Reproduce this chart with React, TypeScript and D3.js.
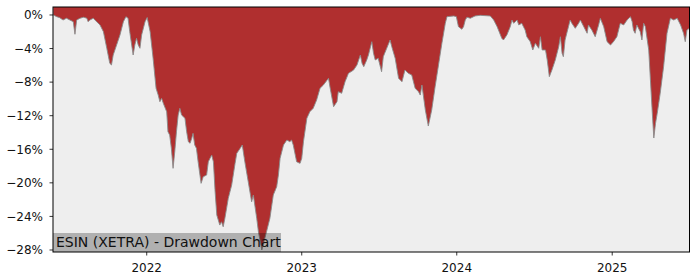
import React from "react";
import * as d3 from "d3";

const dates: string[] = [
  "2021-05-26","2021-06-03","2021-06-10","2021-06-18","2021-06-26","2021-07-04","2021-07-12","2021-07-16","2021-07-20","2021-07-28",
  "2021-08-05","2021-08-13","2021-08-16","2021-08-20","2021-08-28","2021-09-05","2021-09-13","2021-09-21","2021-09-29","2021-10-06",
  "2021-10-10","2021-10-14","2021-10-22","2021-10-30","2021-11-07","2021-11-13","2021-11-18","2021-11-22","2021-11-30","2021-12-04",
  "2021-12-08","2021-12-12","2021-12-16","2021-12-20","2021-12-28","2022-01-02","2022-01-09","2022-01-16","2022-01-23","2022-01-28",
  "2022-02-01","2022-02-05","2022-02-09","2022-02-17","2022-02-20","2022-02-24","2022-02-28","2022-03-04","2022-03-08","2022-03-12",
  "2022-03-16","2022-03-20","2022-03-24","2022-04-01","2022-04-05","2022-04-09","2022-04-13","2022-04-17","2022-04-20","2022-04-24",
  "2022-04-28","2022-05-02","2022-05-09","2022-05-14","2022-05-22","2022-05-26","2022-05-30","2022-06-03","2022-06-07","2022-06-11",
  "2022-06-15","2022-06-22","2022-06-26","2022-06-30","2022-07-04","2022-07-12","2022-07-20","2022-07-28","2022-08-01","2022-08-09",
  "2022-08-14","2022-08-20","2022-08-28","2022-09-05","2022-09-09","2022-09-17","2022-09-21","2022-09-29","2022-10-10","2022-10-18",
  "2022-10-26","2022-11-03","2022-11-07","2022-11-11","2022-11-19","2022-11-27","2022-12-04","2022-12-08","2022-12-12","2022-12-20",
  "2022-12-28","2023-01-01","2023-01-05","2023-01-13","2023-01-20","2023-01-28","2023-02-05","2023-02-13","2023-02-21","2023-03-05",
  "2023-03-09","2023-03-17","2023-03-25","2023-03-28","2023-04-05","2023-04-13","2023-04-21","2023-05-03","2023-05-11","2023-05-19",
  "2023-05-23","2023-05-27","2023-06-03","2023-06-07","2023-06-15","2023-06-19","2023-06-23","2023-06-30","2023-07-08","2023-07-12",
  "2023-07-20","2023-07-28","2023-08-01","2023-08-09","2023-08-17","2023-08-25","2023-09-01","2023-09-09","2023-09-17","2023-09-25",
  "2023-10-03","2023-10-07","2023-10-11","2023-10-19","2023-10-26","2023-11-03","2023-11-11","2023-11-19","2023-11-27","2023-12-05",
  "2023-12-09","2023-12-25","2023-12-31","2024-01-05","2024-01-13","2024-01-17","2024-01-21","2024-01-25","2024-02-02","2024-02-13",
  "2024-02-25","2024-03-20","2024-03-28","2024-04-05","2024-04-16","2024-04-20","2024-04-28","2024-05-06","2024-05-10","2024-05-14",
  "2024-05-22","2024-05-26","2024-06-02","2024-06-10","2024-06-14","2024-06-22","2024-06-28","2024-07-04","2024-07-12","2024-07-16",
  "2024-07-20","2024-07-28","2024-08-01","2024-08-06","2024-08-12","2024-08-20","2024-08-28","2024-09-01","2024-09-05","2024-09-08",
  "2024-09-12","2024-09-20","2024-09-24","2024-09-28","2024-10-06","2024-10-14","2024-10-18","2024-10-26","2024-11-03","2024-11-06",
  "2024-11-14","2024-11-22","2024-11-30","2024-12-04","2024-12-12","2024-12-20","2024-12-28","2025-01-04","2025-01-12","2025-01-20",
  "2025-01-28","2025-02-05","2025-02-13","2025-02-17","2025-02-20","2025-02-24","2025-02-28","2025-03-08","2025-03-12","2025-03-16",
  "2025-03-20","2025-03-28","2025-04-01","2025-04-05","2025-04-09","2025-04-13","2025-04-17","2025-04-24","2025-05-02","2025-05-10",
  "2025-05-18","2025-05-26","2025-06-03","2025-06-11","2025-06-18","2025-06-22","2025-06-26","2025-07-02",
];

const drawdown: number[] = [
  0,-0.2,-0.32,-0.6,-0.39,-0.6,-0.8,-2.3,-0.6,-0.39,
  -0.27,-0.39,-0.8,-0.6,-0.39,-0.8,-1.19,-1.99,-3.97,-5.76,
  -5.96,-4.77,-3.58,-2.38,-0.8,-0.2,-0.39,-1.99,-4.77,-3.58,
  -2.78,-3.58,-3.97,-2.38,-0.8,-0.3,-1.99,-5.16,-8.74,-9.54,
  -10.33,-9.93,-10.52,-11.53,-13.91,-14.3,-15.89,-18.27,-16.29,-13.91,
  -11.92,-11.12,-11.92,-12.31,-13.91,-15.1,-15.29,-14.7,-14.1,-15.49,
  -15.89,-17.49,-20.06,-19.27,-19.07,-17.49,-17.08,-16.69,-17.49,-21.06,
  -23.84,-25.03,-24.64,-25.23,-24.23,-21.85,-20.26,-17.68,-16.48,-15.89,
  -15.49,-17.49,-19.87,-22.25,-21.45,-24.23,-25.83,-28.0,-25.83,-24.23,
  -21.45,-20.46,-19.07,-17.08,-15.49,-14.9,-15.1,-14.9,-15.49,-17.49,
  -17.68,-17.08,-15.1,-12.31,-11.53,-11.12,-10.13,-8.74,-8.34,-7.54,
  -8.74,-10.93,-10.33,-9.14,-9.33,-7.95,-6.95,-6.56,-5.96,-4.77,
  -5.76,-6.16,-5.36,-4.77,-3.18,-4.56,-5.36,-5.16,-6.76,-4.97,
  -3.97,-2.98,-3.78,-5.16,-7.54,-7.95,-6.56,-6.95,-7.15,-8.74,
  -9.14,-9.54,-8.34,-11.32,-13.23,-11.32,-8.55,-5.96,-3.37,-0.99,
  -0.2,-0.12,-0.2,-1.39,-1.7,-1.39,-0.6,-0.27,-0.39,-0.12,
  -0.04,-0.12,-0.6,-1.39,-2.78,-2.98,-2.38,-1.39,-0.6,-0.99,
  -0.6,-1.19,-0.99,-1.79,-2.59,-3.18,-4.17,-3.37,-3.97,-2.59,
  -4.17,-4.17,-5.36,-7.35,-6.56,-5.36,-3.78,-2.59,-4.56,-4.97,
  -2.98,-1.39,-0.6,-0.99,-1.59,-0.99,-0.6,-1.39,-2.18,-1.19,
  -1.79,-2.59,-1.19,-0.39,-1.39,-3.18,-3.58,-3.18,-2.59,-0.99,
  -1.19,-0.6,-0.2,-0.8,-1.79,-2.18,-1.19,-1.99,-2.98,-0.99,
  -1.39,-4.17,-7.75,-11.32,-14.66,-12.91,-11.72,-9.33,-6.16,-2.18,
  -0.39,-0.6,-0.39,-1.19,-2.18,-3.18,-1.79,-1.59,
];

const yTicks: number[] = [0, -4, -8, -12, -16, -20, -24, -28];
const xTickYears: number[] = [2022, 2023, 2024, 2025];
const title = "ESIN (XETRA) - Drawdown Chart";
const yDomain: [number, number] = [-28.24, 0.95];

export default function App() {
  const W = 700, H = 280;
  const left = 53, right = 689.5, top = 7, bottom = 252;
  const parse = d3.timeParse("%Y-%m-%d");
  const data = dates.map((d, i) => ({ date: parse(d) as Date, v: drawdown[i] }));
  const x = d3.scaleTime()
    .domain(d3.extent(data, (d) => d.date) as [Date, Date])
    .range([left + 0.3, right]);
  const y = d3.scaleLinear().domain(yDomain).range([bottom, top]);

  const area = d3.area<{ date: Date; v: number }>()
    .x((d) => x(d.date))
    .y0(top)
    .y1((d) => y(d.v));
  const line = d3.line<{ date: Date; v: number }>()
    .x((d) => x(d.date))
    .y((d) => y(d.v));

  const font = "'DejaVu Sans', sans-serif";
  const tickFs = 12;
  const titleFs = 14;
  const titleW = 228;

  return (
    <svg width={W} height={H} style={{ position: "absolute", left: 0, top: 0 }} fontFamily={font}>
      <rect x={0} y={0} width={W} height={H} fill="#ffffff" />
      <rect x={left} y={top} width={right - left} height={bottom - top} fill="#eeeeee" />
      <defs>
        <clipPath id="plotclip">
          <rect x={left} y={top} width={right - left} height={bottom - top} />
        </clipPath>
      </defs>
      <g clipPath="url(#plotclip)">
        <path d={area(data) || ""} fill="#b02f2f" />
        <path d={line(data) || ""} fill="none" stroke="#8a8a8a" strokeWidth={0.9} />
      </g>
      <rect x={left} y={bottom - 19} width={titleW} height={19} fill="#000000" fillOpacity={0.26} />
      <text x={left + 3} y={bottom - 5.3} fontSize={titleFs} fill="#111">{title}</text>
      <rect x={left} y={top} width={right - left} height={bottom - top} fill="none" stroke="#000" strokeWidth={1} />
      {yTicks.map((t) => (
        <g key={"y" + t}>
          <line x1={left - 3.5} x2={left} y1={y(t)} y2={y(t)} stroke="#000" strokeWidth={0.8} />
          <text x={left - 10} y={y(t)} dy="0.36em" textAnchor="end" fontSize={tickFs} fill="#111">
            {(t < 0 ? "\u2212" + Math.abs(t) : String(t)) + "%"}
          </text>
        </g>
      ))}
      {xTickYears.map((yr) => {
        const xx = x(new Date(yr, 0, 1));
        return (
          <g key={"x" + yr}>
            <line x1={xx} x2={xx} y1={bottom} y2={bottom + 3.5} stroke="#000" strokeWidth={0.8} />
            <text x={xx} y={bottom + 19.5} textAnchor="middle" fontSize={tickFs} fill="#111">{yr}</text>
          </g>
        );
      })}
    </svg>
  );
}
